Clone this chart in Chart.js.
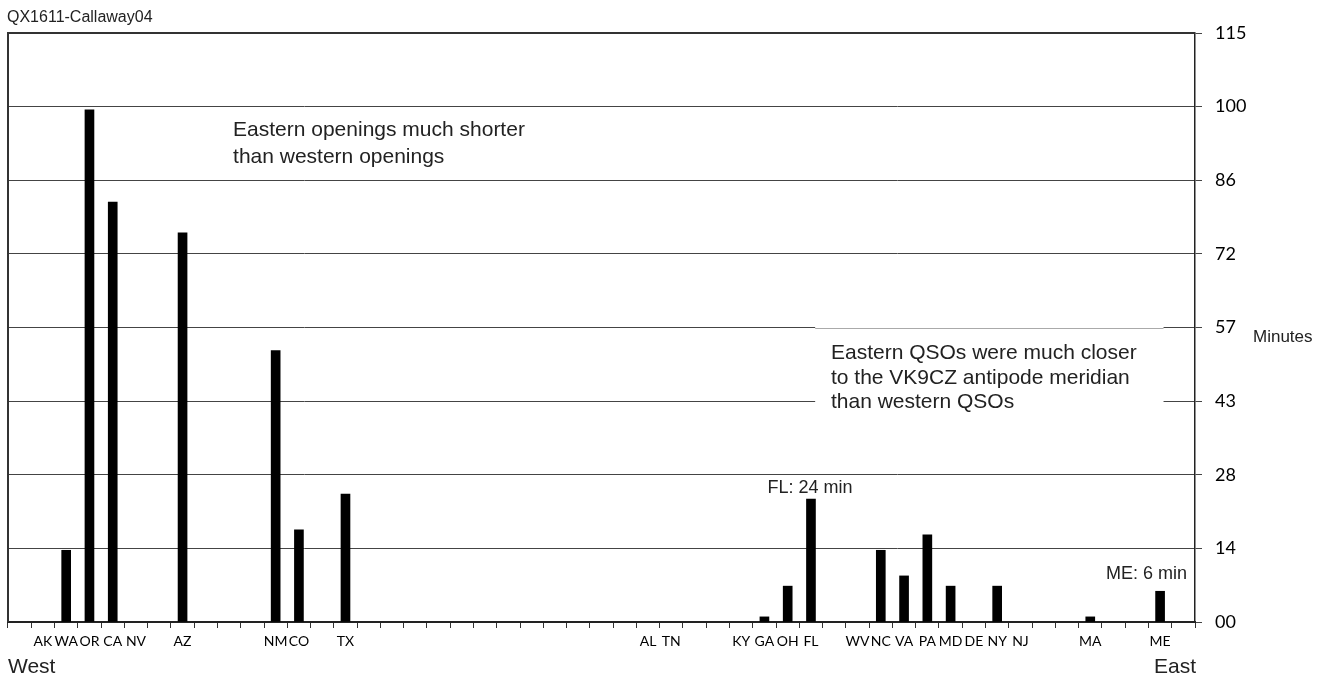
<!DOCTYPE html>
<html><head><meta charset="utf-8">
<script src="https://cdn.jsdelivr.net/npm/chart.js@4/dist/chart.umd.min.js"></script>
<style>html,body{margin:0;padding:0;background:#fff}canvas{display:block}</style>
</head><body>
<canvas id="c" width="1333" height="679"></canvas>
<script>
// 51 category slots, west (left) to east (right); '' = empty slot
const categories = [
  '', 'AK', 'WA', 'OR', 'CA', 'NV', '', 'AZ', '', '', '', 'NM', 'CO', '', 'TX',
  '', '', '', '', '', '', '', '', '', '', '', '',
  'AL', 'TN', '', '', 'KY', 'GA', 'OH', 'FL', '', 'WV', 'NC', 'VA', 'PA', 'MD', 'DE', 'NY', 'NJ',
  '', '', 'MA', '', '', 'ME', ''
];
// opening duration in minutes per slot (null = no bar)
const minutes = [
  null, null, 14, 100, 82, null, null, 76, null, null, null, 53, 18, null, 25,
  null, null, null, null, null, null, null, null, null, null, null, null,
  null, null, null, null, null, 1, 7, 24, null, null, 14, 9, 17, 7, null, 7, null,
  null, null, 1, null, null, 6, null
];
const yMax = 115;
const yTickValues = [0, 14.375, 28.75, 43.125, 57.5, 71.875, 86.25, 100.625, 115];
const yTickLabels = ['00', '14', '28', '43', '57', '72', '86', '100', '115'];

const annot = {
  id: 'annot',
  beforeDatasetsDraw(chart) {
    const {ctx, chartArea: ca} = chart;
    ctx.save();
    ctx.strokeStyle = '#333';
    ctx.lineWidth = 2;
    ctx.beginPath();
    ctx.moveTo(ca.left, ca.bottom);
    ctx.lineTo(ca.left, ca.top);
    ctx.lineTo(ca.right, ca.top);
    ctx.stroke();
    ctx.restore();
  },
  afterDatasetsDraw(chart) {
    const {ctx, chartArea: ca, scales} = chart;
    const x = scales.x, y = scales.y;
    const W = ca.right - ca.left;
    ctx.save();
    // white box behind second note
    const bx0 = ca.left + 0.68 * W, bx1 = ca.left + 0.9735 * W;
    const gy = Math.round(y.getPixelForValue(57.5));
    ctx.fillStyle = '#fff';
    ctx.fillRect(bx0, gy - 1, bx1 - bx0, y.getPixelForValue(39) - gy);
    ctx.strokeStyle = '#aaa';
    ctx.lineWidth = 1;
    ctx.beginPath();
    ctx.moveTo(bx0, gy + 0.5); ctx.lineTo(bx1, gy + 0.5);
    ctx.stroke();

    ctx.fillStyle = '#222';
    ctx.textBaseline = 'middle';
    ctx.textAlign = 'left';
    ctx.font = '21px "Liberation Sans", Arial, sans-serif';
    const t1x = ca.left + 0.1896 * W;
    ctx.fillText('Eastern openings much shorter', t1x, y.getPixelForValue(96.1));
    ctx.fillText('than western openings', t1x, y.getPixelForValue(90.8));
    const t2x = ca.left + 0.6933 * W;
    ctx.fillText('Eastern QSOs were much closer', t2x, y.getPixelForValue(52.5));
    ctx.fillText('to the VK9CZ antipode meridian', t2x, y.getPixelForValue(47.6));
    ctx.fillText('than western QSOs', t2x, y.getPixelForValue(42.9));

    ctx.font = '18px "Liberation Sans", Arial, sans-serif';
    ctx.textAlign = 'center';
    ctx.fillText('FL: 24 min', x.getPixelForValue(34) - 1, y.getPixelForValue(24) - 11);
    ctx.textAlign = 'right';
    ctx.fillText('ME: 6 min', ca.right - 8, y.getPixelForValue(6) - 17);

    // title and direction labels
    ctx.fillStyle = '#222';
    ctx.textAlign = 'left';
    ctx.font = '16px "Liberation Sans", Arial, sans-serif';
    ctx.fillText('QX1611-Callaway04', 7, 18);
    ctx.font = '21px "Liberation Sans", Arial, sans-serif';
    ctx.fillText('West', 8, 667);
    ctx.textAlign = 'right';
    ctx.fillText('East', ca.right + 1, 667);
    ctx.textAlign = 'left';
    ctx.font = '17px "Liberation Sans", Arial, sans-serif';
    ctx.fillText('Minutes', 1253, 337);
    ctx.restore();
  }
};

new Chart(document.getElementById('c'), {
  type: 'bar',
  data: {
    labels: categories,
    datasets: [{
      data: minutes,
      backgroundColor: '#000',
      borderWidth: 0,
      barThickness: 9
    }]
  },
  options: {
    responsive: false,
    animation: false,
    layout: {padding: {left: 8, top: 33, right: 0, bottom: 0}},
    plugins: {legend: {display: false}, tooltip: {enabled: false}, title: {display: false}},
    scales: {
      x: {
        type: 'category',
        offset: true,
        grid: {offset: true, drawOnChartArea: false, drawTicks: true, tickLength: 6, color: '#333', lineWidth: 1},
        border: {display: true, color: '#222', width: 2},
        ticks: {autoSkip: false, maxRotation: 0, minRotation: 0, padding: 5, color: '#000',
                font: {family: 'Lato, "Open Sans", sans-serif', size: 14}},
        afterFit(s) { s.height = 57; }
      },
      y: {
        position: 'right',
        min: 0,
        max: yMax,
        afterBuildTicks(s) { s.ticks = yTickValues.map(v => ({value: v})); },
        grid: {color: '#444', lineWidth: 1, drawTicks: true, tickLength: 7},
        border: {display: true, color: '#222', width: 1.5},
        ticks: {padding: 13, color: '#000', autoSkip: false,
                callback: (v, i) => yTickLabels[i],
                font: {family: 'Lato, "Open Sans", sans-serif', size: 18}},
        afterFit(s) { s.width = 138; }
      }
    }
  },
  plugins: [annot]
});
</script>
</body></html>
